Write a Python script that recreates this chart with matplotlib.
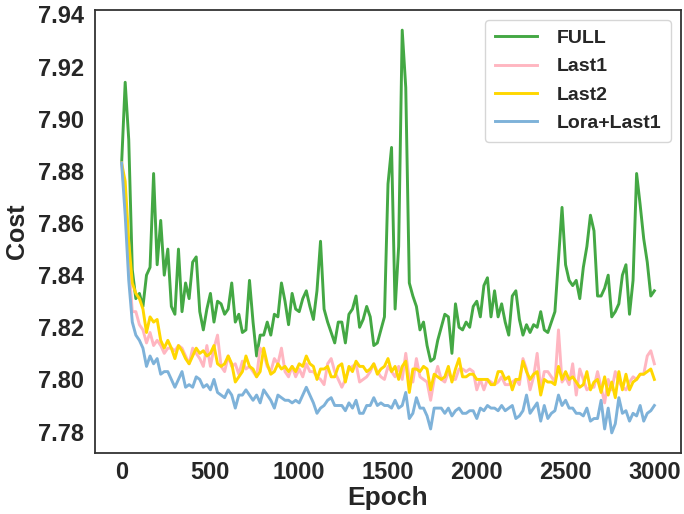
import numpy as np
import matplotlib
matplotlib.use("Agg")
import matplotlib.pyplot as plt

epochs = list(range(0, 3001, 20))

full = [7.883, 7.914, 7.892, 7.842, 7.831, 7.833, 7.828, 7.840, 7.843, 7.879,
        7.844, 7.861, 7.840, 7.850, 7.828, 7.825, 7.850, 7.826, 7.837, 7.831,
        7.845, 7.847, 7.826, 7.819, 7.827, 7.833, 7.822, 7.830, 7.829, 7.825,
        7.827, 7.837, 7.822, 7.825, 7.818, 7.819, 7.838, 7.822, 7.809, 7.817,
        7.817, 7.822, 7.817, 7.825, 7.824, 7.837, 7.830, 7.821, 7.833, 7.827,
        7.826, 7.831, 7.834, 7.828, 7.823, 7.834, 7.853, 7.827, 7.822, 7.818,
        7.814, 7.822, 7.822, 7.814, 7.825, 7.827, 7.832, 7.820, 7.823, 7.828,
        7.824, 7.813, 7.814, 7.819, 7.824, 7.875, 7.889, 7.827, 7.851, 7.934,
        7.912, 7.837, 7.832, 7.828, 7.819, 7.822, 7.813, 7.807, 7.808, 7.815,
        7.820, 7.825, 7.824, 7.810, 7.829, 7.820, 7.819, 7.822, 7.820, 7.828,
        7.830, 7.824, 7.836, 7.839, 7.824, 7.834, 7.824, 7.829, 7.822, 7.817,
        7.832, 7.834, 7.823, 7.817, 7.821, 7.818, 7.821, 7.820, 7.826, 7.819,
        7.818, 7.822, 7.826, 7.846, 7.866, 7.844, 7.838, 7.836, 7.838, 7.831,
        7.843, 7.851, 7.863, 7.857, 7.832, 7.832, 7.835, 7.840, 7.824, 7.826,
        7.829, 7.840, 7.844, 7.825, 7.838, 7.879, 7.867, 7.854, 7.845, 7.832,
        7.834]

last1 = [7.883, 7.869, 7.845, 7.826, 7.826, 7.821, 7.819, 7.814, 7.818, 7.813,
         7.815, 7.813, 7.810, 7.812, 7.812, 7.811, 7.813, 7.812, 7.809, 7.806,
         7.812, 7.810, 7.808, 7.805, 7.813, 7.805, 7.812, 7.817, 7.805, 7.803,
         7.809, 7.805, 7.806, 7.802, 7.807, 7.804, 7.805, 7.803, 7.801, 7.812,
         7.810, 7.805, 7.803, 7.808, 7.806, 7.812, 7.803, 7.801, 7.805, 7.801,
         7.804, 7.801, 7.806, 7.803, 7.803, 7.801, 7.800, 7.798, 7.806, 7.808,
         7.803, 7.800, 7.797, 7.800, 7.804, 7.805, 7.806, 7.799, 7.800, 7.801,
         7.803, 7.806, 7.803, 7.801, 7.800, 7.805, 7.803, 7.801, 7.805, 7.800,
         7.810, 7.800, 7.799, 7.808, 7.801, 7.800, 7.799, 7.792, 7.800, 7.805,
         7.800, 7.799, 7.803, 7.800, 7.800, 7.804, 7.804, 7.803, 7.804, 7.803,
         7.796, 7.800, 7.796, 7.800, 7.799, 7.798, 7.799, 7.801, 7.798, 7.798,
         7.799, 7.800, 7.798, 7.808, 7.804, 7.796, 7.801, 7.810, 7.796, 7.803,
         7.803, 7.801, 7.799, 7.819, 7.799, 7.801, 7.798, 7.806, 7.794, 7.804,
         7.800, 7.796, 7.797, 7.797, 7.803, 7.797, 7.791, 7.800, 7.796, 7.803,
         7.799, 7.797, 7.796, 7.799, 7.801, 7.800, 7.802, 7.802, 7.809, 7.811,
         7.806]

last2 = [7.883, 7.876, 7.853, 7.837, 7.833, 7.831, 7.827, 7.818, 7.824, 7.822,
         7.823, 7.815, 7.812, 7.815, 7.812, 7.808, 7.813, 7.811, 7.808, 7.806,
         7.809, 7.812, 7.810, 7.811, 7.809, 7.810, 7.813, 7.806, 7.805, 7.806,
         7.809, 7.806, 7.799, 7.801, 7.803, 7.809, 7.805, 7.804, 7.801, 7.803,
         7.812, 7.806, 7.802, 7.803, 7.806, 7.804, 7.805, 7.803, 7.805, 7.803,
         7.806, 7.805, 7.809, 7.806, 7.805, 7.800, 7.804, 7.804, 7.805, 7.801,
         7.801, 7.805, 7.806, 7.799, 7.805, 7.803, 7.807, 7.805, 7.805, 7.803,
         7.804, 7.806, 7.802, 7.804, 7.805, 7.808, 7.803, 7.805, 7.800, 7.805,
         7.807, 7.795, 7.804, 7.804, 7.803, 7.805, 7.804, 7.796, 7.802, 7.801,
         7.800, 7.801, 7.805, 7.799, 7.804, 7.808, 7.801, 7.801, 7.802, 7.802,
         7.800, 7.800, 7.800, 7.800, 7.798, 7.798, 7.803, 7.803, 7.800, 7.801,
         7.796, 7.800, 7.800, 7.807, 7.803, 7.800, 7.802, 7.803, 7.794, 7.800,
         7.799, 7.799, 7.798, 7.805, 7.800, 7.803, 7.800, 7.801, 7.799, 7.797,
         7.798, 7.803, 7.796, 7.799, 7.800, 7.795, 7.801, 7.794, 7.799, 7.793,
         7.803, 7.796, 7.802, 7.796, 7.799, 7.800, 7.802, 7.802, 7.803, 7.804,
         7.800]

lora_last1 = [7.883, 7.863, 7.838, 7.822, 7.817, 7.815, 7.812, 7.805, 7.809, 7.806,
              7.808, 7.802, 7.803, 7.803, 7.800, 7.797, 7.800, 7.803, 7.797, 7.798,
              7.797, 7.801, 7.800, 7.797, 7.798, 7.796, 7.800, 7.795, 7.794, 7.793,
              7.796, 7.794, 7.789, 7.794, 7.794, 7.796, 7.794, 7.792, 7.794, 7.791,
              7.796, 7.794, 7.792, 7.789, 7.794, 7.793, 7.792, 7.792, 7.791, 7.792,
              7.791, 7.794, 7.797, 7.794, 7.791, 7.787, 7.789, 7.790, 7.792, 7.793,
              7.790, 7.790, 7.790, 7.788, 7.791, 7.789, 7.792, 7.787, 7.787, 7.790,
              7.790, 7.793, 7.790, 7.791, 7.790, 7.790, 7.789, 7.792, 7.789, 7.790,
              7.795, 7.785, 7.787, 7.793, 7.789, 7.789, 7.786, 7.781, 7.789, 7.789,
              7.789, 7.787, 7.789, 7.786, 7.788, 7.789, 7.787, 7.787, 7.788, 7.788,
              7.785, 7.789, 7.788, 7.790, 7.789, 7.789, 7.788, 7.790, 7.788, 7.789,
              7.790, 7.785, 7.786, 7.788, 7.794, 7.787, 7.789, 7.791, 7.784, 7.790,
              7.785, 7.787, 7.788, 7.794, 7.790, 7.792, 7.789, 7.789, 7.787, 7.787,
              7.786, 7.789, 7.784, 7.785, 7.785, 7.792, 7.781, 7.789, 7.7795, 7.783,
              7.793, 7.787, 7.788, 7.784, 7.787, 7.786, 7.790, 7.784, 7.787, 7.788,
              7.790]

series_names = ["FULL", "Last1", "Last2", "Lora+Last1"]
series_values = [full, last1, last2, lora_last1]
colors = ["#44a844", "#ffb6c1", "#ffd700", "#7eb2d9"]

plt.rcParams["font.family"] = ["Liberation Sans", "DejaVu Sans"]
plt.rcParams["font.weight"] = "bold"

fig = plt.figure(figsize=(6.84, 5.14), dpi=100)
ax = fig.add_axes([95 / 684, 1 - 453 / 514, (681 - 95) / 684, (453 - 10) / 514])

for name, vals, c in zip(series_names, series_values, colors):
    ax.plot(epochs, vals, color=c, lw=2.1, label=name)

ax.set_yticks([7.78, 7.80, 7.82, 7.84, 7.86, 7.88, 7.90, 7.92, 7.94])
ax.set_xticks([0, 500, 1000, 1500, 2000, 2500, 3000])
ax.tick_params(axis="both", length=0, labelsize=17, labelcolor="#262626")
ax.tick_params(axis="x", pad=6)
ax.tick_params(axis="y", pad=8)
for lab in ax.get_xticklabels() + ax.get_yticklabels():
    lab.set_fontweight("bold")

ax.set_xlabel("Epoch", fontsize=19, fontweight="bold", color="#262626", labelpad=1)
ax.set_ylabel("Cost", fontsize=18, fontweight="bold", color="#262626", labelpad=6)

for sp in ax.spines.values():
    sp.set_color("#333333")
    sp.set_linewidth(1.3)

leg = ax.legend(loc="upper right", fontsize=14, frameon=True, fancybox=True,
                edgecolor="#cccccc", handlelength=2.2, borderpad=0.5,
                labelspacing=0.55, handletextpad=1.0)
for t in leg.get_texts():
    t.set_fontweight("bold")
    t.set_color("#262626")

fig.savefig("out.png", dpi=100)
